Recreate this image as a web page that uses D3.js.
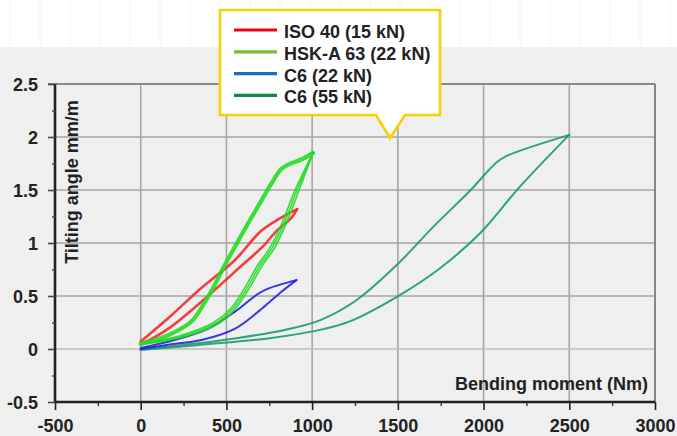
<!DOCTYPE html>
<html>
<head>
<meta charset="utf-8">
<script src="https://cdn.jsdelivr.net/npm/d3@7"></script>
<style>
  html,body{margin:0;padding:0;background:#fff;}
  svg{display:block;}
  text{font-family:"Liberation Sans",Arial,sans-serif;font-weight:bold;fill:#222;}
</style>
</head>
<body>
<svg id="chart" width="677" height="436"></svg>
<script>
// ---- data ----
const xTicks = [-500, 0, 500, 1000, 1500, 2000, 2500, 3000];
const yTicks = [-0.5, 0, 0.5, 1, 1.5, 2, 2.5];
const xTickLabels = ["-500", "0", "500", "1000", "1500", "2000", "2500", "3000"];
const yTickLabels = ["-0.5", "0", "0.5", "1", "1.5", "2", "2.5"];
const xTitle = "Bending moment (Nm)";
const yTitle = "Tilting angle mm/m";

const seriesNames = ["ISO 40 (15 kN)", "HSK-A 63 (22 kN)", "C6 (22 kN)", "C6 (55 kN)"];
const legendColors = ["#e30613", "#7cbd2e", "#1b6dc1", "#0b8a43"];
const curveColors = ["#f22a2a", "#22dd22", "#2424dd", "#1a9a70"];

// ISO 40 (15 kN) hysteresis loop
const isoUpper = [[0,0.07],[160,0.29],[350,0.57],[550,0.84],[700,1.11],[820,1.24],[912,1.32]];
const isoLower = [[0,0.04],[160,0.19],[350,0.44],[550,0.73],[720,0.98],[790,1.11],[880,1.24],[912,1.32]];

// HSK-A 63 (22 kN) loop: one thick branch, three thin return branches
const hskUpper = [[0,0.05],[82,0.085],[160,0.13],[296,0.26],[373,0.44],[430,0.60],[490,0.79],[548,0.96],[646,1.24],[704,1.40],[762,1.56],[821,1.70],[860,1.74],[940,1.79],[1005,1.85]];
const hskLowerA = [[1005,1.85],[922,1.49],[848,1.18],[780,0.95],[710,0.79],[632,0.57],[552,0.38],[455,0.24],[262,0.12],[0,0.04]];
const hskLowerB = [[1005,1.85],[910,1.49],[835,1.18],[766,0.95],[696,0.79],[618,0.57],[538,0.38],[440,0.245],[250,0.125],[0,0.045]];
const hskLowerC = [[1005,1.85],[898,1.49],[822,1.18],[752,0.95],[682,0.79],[604,0.57],[524,0.38],[425,0.25],[238,0.13],[0,0.05]];

// C6 (22 kN) loop
const c6aUpper = [[0,0.01],[198,0.085],[393,0.19],[548,0.35],[684,0.52],[743,0.57],[908,0.65]];
const c6aLower = [[0,0.0],[159,0.04],[354,0.085],[548,0.19],[684,0.35],[821,0.54],[908,0.65]];

// C6 (55 kN) loop
const c6bUpper = [[0,0.0],[257,0.04],[548,0.10],[840,0.18],[1044,0.27],[1258,0.46],[1492,0.79],[1705,1.15],[1919,1.49],[2075,1.76],[2133,1.82],[2500,2.02]];
const c6bLower = [[0,-0.01],[354,0.04],[743,0.10],[1073,0.19],[1219,0.26],[1492,0.49],[1744,0.76],[1978,1.09],[2211,1.53],[2500,2.02]];

// ---- drawing ----
const svg = d3.select("#chart");
const W = 677, H = 436;
const mLeft = 55, mRight = 655, mTop = 84, mBottom = 402;

const x = d3.scaleLinear().domain([-500, 3000]).range([mLeft, mRight]);
const y = d3.scaleLinear().domain([-0.5, 2.5]).range([mBottom, mTop]);

// backgrounds
svg.append("rect").attr("x",0).attr("y",0).attr("width",W).attr("height",47).attr("fill","#ffffff");
svg.append("rect").attr("x",0).attr("y",47).attr("width",W).attr("height",H-47).attr("fill","#efefef");
// faint pattern in top band
svg.append("g").selectAll("line").data(d3.range(10, W, 30)).join("line")
  .attr("x1",d=>d).attr("x2",d=>d).attr("y1",0).attr("y2",47)
  .attr("stroke","#f4f4f4").attr("stroke-width",1);

// grid
const grid = svg.append("g");
grid.selectAll("line.v").data(xTicks.filter(d => d > -500 && d < 3000)).join("line")
  .attr("class","v")
  .attr("x1",d=>x(d)).attr("x2",d=>x(d)).attr("y1",mTop).attr("y2",mBottom)
  .attr("stroke","#a6a6a6").attr("stroke-width",1.6);
grid.selectAll("line.h").data(yTicks.filter(d => d > -0.5 && d < 2.5)).join("line")
  .attr("class","h")
  .attr("x1",mLeft).attr("x2",mRight).attr("y1",d=>y(d)).attr("y2",d=>y(d))
  .attr("stroke", d => d === 0 ? "#bdbdbd" : "#a6a6a6").attr("stroke-width",1.6);
// frame top/right
grid.append("line").attr("x1",mLeft-7).attr("x2",mRight).attr("y1",mTop).attr("y2",mTop)
  .attr("stroke","#8a8a8a").attr("stroke-width",1.8);
grid.append("line").attr("x1",mRight).attr("x2",mRight).attr("y1",mTop).attr("y2",mBottom)
  .attr("stroke","#7a7a7a").attr("stroke-width",1.8);

// axes
const xAxis = d3.axisBottom(x).tickValues(xTicks).tickSize(8).tickFormat((d,i)=>xTickLabels[i]);
const yAxis = d3.axisLeft(y).tickValues(yTicks).tickSize(7).tickFormat((d,i)=>yTickLabels[i]);
const xMinor = d3.axisBottom(x).tickValues(d3.range(-250, 3000, 500)).tickSize(4).tickFormat("");
const yMinor = d3.axisLeft(y).tickValues(d3.range(-0.25, 2.5, 0.5)).tickSize(3).tickFormat("");

const gx = svg.append("g").attr("transform",`translate(0,${mBottom})`).call(xAxis);
gx.select(".domain").attr("stroke","#222").attr("stroke-width",2.6).attr("d",`M${mLeft},0H${mRight}`);
gx.selectAll(".tick line").attr("stroke","#222").attr("stroke-width",1.6);
gx.selectAll(".tick text").attr("y",30).attr("dy",0).style("font-size","18px").attr("fill","#222");
svg.append("g").attr("transform",`translate(0,${mBottom})`).call(xMinor)
  .call(g=>{g.select(".domain").remove(); g.selectAll(".tick line").attr("stroke","#333").attr("stroke-width",1.4);});

const gy = svg.append("g").attr("transform",`translate(${mLeft},0)`).call(yAxis);
gy.select(".domain").attr("stroke","#222").attr("stroke-width",2.6).attr("d",`M0,${mTop}V${mBottom}`);
gy.selectAll(".tick line").attr("stroke","#444").attr("stroke-width",1.6);
gy.selectAll(".tick text").attr("x",-17).attr("dy","0.36em").style("font-size","18px").attr("fill","#222");
svg.append("g").attr("transform",`translate(${mLeft},0)`).call(yMinor)
  .call(g=>{g.select(".domain").remove(); g.selectAll(".tick line").attr("stroke","#444").attr("stroke-width",1.4);});

// axis titles
svg.append("text").attr("x",648).attr("y",390).attr("text-anchor","end")
  .style("font-size","18px").text(xTitle);
svg.append("text").attr("transform","translate(78,182) rotate(-90)").attr("text-anchor","middle")
  .style("font-size","18px").text(yTitle);

// curves
const line = d3.line().x(d=>x(d[0])).y(d=>y(d[1])).curve(d3.curveCatmullRom.alpha(0.5));
const curves = [
  {d: c6bUpper, c: curveColors[3], w: 2},
  {d: c6bLower, c: curveColors[3], w: 2},
  {d: c6aUpper, c: curveColors[2], w: 2},
  {d: c6aLower, c: curveColors[2], w: 2},
  {d: isoUpper, c: curveColors[0], w: 2.6},
  {d: isoLower, c: curveColors[0], w: 2.6},
  {d: hskLowerA, c: curveColors[1], w: 1.6},
  {d: hskLowerB, c: curveColors[1], w: 1.6},
  {d: hskLowerC, c: curveColors[1], w: 1.6},
  {d: hskUpper, c: curveColors[1], w: 4.2}
];
svg.append("g").selectAll("path").data(curves).join("path")
  .attr("d", d=>line(d.d)).attr("fill","none")
  .attr("stroke", d=>d.c).attr("stroke-width", d=>d.w)
  .attr("stroke-linejoin","round").attr("stroke-linecap","round")
  .attr("stroke-opacity",0.9);

// legend callout
const lg = svg.append("g");
lg.append("path")
  .attr("d","M220,10 H440 V115 H405 L390,138 L376,115 H220 Z")
  .attr("fill","#ffffff").attr("stroke","#f5d100").attr("stroke-width",2.6).attr("stroke-linejoin","miter");
const rows = lg.selectAll("g.row").data(seriesNames).join("g").attr("class","row")
  .attr("transform",(d,i)=>`translate(0,${30 + i*21.8})`);
rows.append("line").attr("x1",234).attr("x2",277).attr("y1",0).attr("y2",0)
  .attr("stroke",(d,i)=>legendColors[i]).attr("stroke-width",3.2);
rows.append("text").attr("x",284).attr("y",8).style("font-size","18px").text(d=>d);
</script>
</body>
</html>
